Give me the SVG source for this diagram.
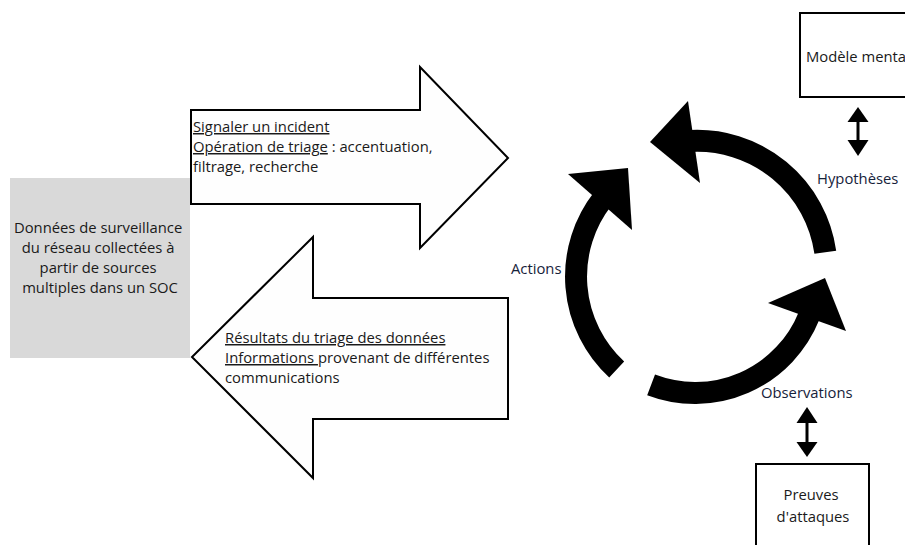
<svg xmlns="http://www.w3.org/2000/svg" width="905" height="545" viewBox="0 0 905 545">
  <style>
    .t { font-family: "Open Sans", "Noto Sans", "DejaVu Sans", sans-serif; font-size: 14.8px; fill: #1a1a1a; }
    .lbl { font-family: "Open Sans", "Noto Sans", "DejaVu Sans", sans-serif; font-size: 14.8px; fill: #16223a; }
    .u { text-decoration: underline; }
    .block { fill: #fefefe; stroke: #000; stroke-width: 2; stroke-linejoin: miter; }
    .box { fill: #fff; stroke: #000; stroke-width: 2; }
    .band { fill: none; stroke: #000; stroke-width: 22; stroke-linecap: butt; }
    .head { fill: #000; }
    .shaft { stroke: #000; stroke-width: 3; }
  </style>
  <rect width="905" height="545" fill="#fff"/>

  <g id="donnees">
    <rect x="10" y="178" width="180" height="180" fill="#d9d9d9"/>
    <text class="t" text-anchor="middle">
      <tspan x="100" y="233">Données de surveillance</tspan>
      <tspan x="100" y="253">du réseau collectées à</tspan>
      <tspan x="100" y="273">partir de sources</tspan>
      <tspan x="100" y="293">multiples dans un SOC</tspan>
    </text>
  </g>

  <g id="fleche-signaler">
    <polygon class="block" points="191,110 420,110 420,67 508,158 420,248 420,204 191,204"/>
    <text class="t">
      <tspan x="193" y="132" class="u">Signaler un incident</tspan>
      <tspan x="193" y="152"><tspan class="u">Opération de triage</tspan> : accentuation,</tspan>
      <tspan x="193" y="172">filtrage, recherche</tspan>
    </text>
  </g>

  <g id="fleche-resultats">
    <polygon class="block" points="508,298 313,298 313,237 192,357 313,478 313,419 508,419"/>
    <text class="t">
      <tspan x="225" y="343" class="u">Résultats du triage des données</tspan>
      <tspan x="225" y="363"><tspan class="u">Informations </tspan>provenant de différentes</tspan>
      <tspan x="225" y="383">communications</tspan>
    </text>
  </g>

  <g id="modele-mental">
    <rect class="box" x="800" y="13" width="130" height="84"/>
    <text class="t" x="806" y="62">Modèle mental</text>
  </g>

  <g id="preuves">
    <rect class="box" x="756" y="464" width="113" height="100"/>
    <text class="t" text-anchor="middle">
      <tspan x="813" y="500">Preuves</tspan>
      <tspan x="813" y="522">d'attaques</tspan>
    </text>
  </g>

  <g id="connecteurs">
    <!-- cycle: Hypothèses arrow (top) -->
    <path class="band" d="M825.3,252.2 A129.5,129.5 0 0 0 690,141"/>
    <polygon class="head" points="688,101 650,142 700,183"/>
    <!-- cycle: Actions arrow (left) -->
    <path class="band" d="M616.7,369.5 A126.5,126.5 0 0 1 603,198.5"/>
    <polygon class="head" points="568,174 628,168 632,230"/>
    <!-- cycle: Observations arrow (bottom) -->
    <path class="band" d="M651.1,384.9 A123,123 0 0 0 809,316"/>
    <polygon class="head" points="768,303 825,278 846,331"/>

    <!-- Modèle mental <-> Hypothèses -->
    <line class="shaft" x1="858" y1="120" x2="858" y2="142"/>
    <polygon class="head" points="858,107 847.5,122 868.5,122"/>
    <polygon class="head" points="847.5,140 868.5,140 858,156"/>

    <!-- Observations <-> Preuves -->
    <line class="shaft" x1="807" y1="421" x2="807" y2="444"/>
    <polygon class="head" points="807,407 796.5,423 817.5,423"/>
    <polygon class="head" points="796.5,442 817.5,442 807,457"/>
  </g>

  <g id="labels">
    <text class="lbl" x="817" y="184">Hypothèses</text>
    <text class="lbl" x="511" y="274">Actions</text>
    <text class="lbl" x="761" y="398">Observations</text>
  </g>
</svg>
